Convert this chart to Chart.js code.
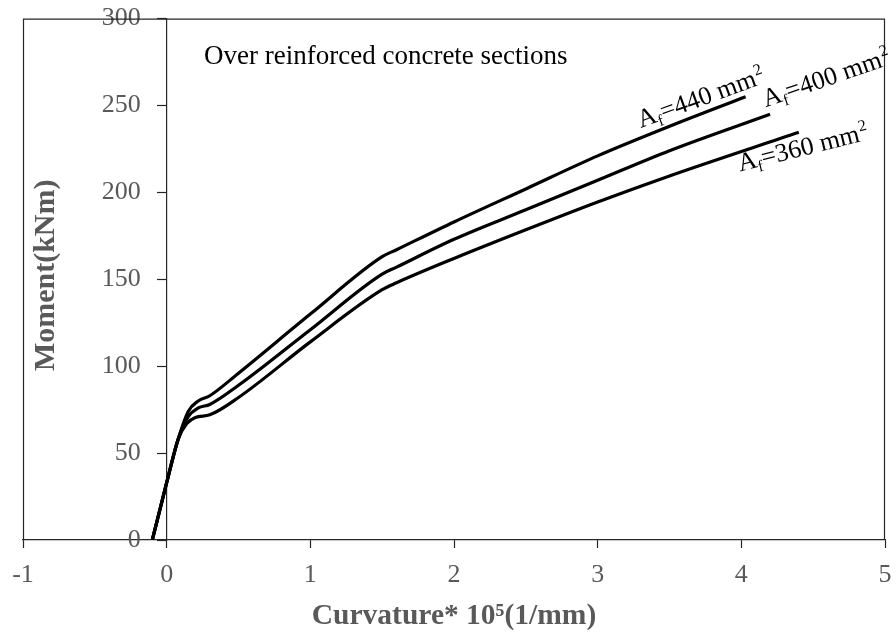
<!DOCTYPE html>
<html>
<head>
<meta charset="utf-8">
<script src="https://cdn.jsdelivr.net/npm/chart.js@4"></script>
<style>
  body { margin: 0; background: #fff; }
  #wrap { width: 896px; height: 634px; }
</style>
</head>
<body>
<div id="wrap"><canvas id="chart" width="896" height="634"></canvas></div>
<script>
// curvature * 10^5 (1/mm) and moment (kNm)
const curv440 = [-0.1, 0.0, 0.08, 0.15, 0.22, 0.3, 0.5, 1.0, 1.5, 1.6, 2.0, 2.5, 3.0, 3.5, 4.03];
const mom440  = [0, 33, 58, 74, 80, 83, 96, 130, 163, 167, 183, 202, 221, 238, 255];

const curv400 = [-0.1, 0.0, 0.08, 0.15, 0.22, 0.3, 0.5, 1.0, 1.5, 1.6, 2.0, 2.5, 3.0, 3.5, 4.2];
const mom400  = [0, 33, 58, 71, 76, 78, 89, 121, 153, 157, 173, 190, 207, 224, 245];

const curv360 = [-0.1, 0.0, 0.08, 0.14, 0.2, 0.3, 0.5, 1.0, 1.5, 1.6, 2.0, 2.5, 3.0, 3.5, 4.4];
const mom360  = [0, 33, 58, 67, 70.5, 72, 82, 114, 144, 148, 162, 178.5, 194.5, 209.5, 234.6];

const seriesNames = ['440', '400', '360'];
const xTicks = [-1, 0, 1, 2, 3, 4, 5];
const yTicks = [0, 50, 100, 150, 200, 250, 300];

const GRAY = '#595959';
const SERIF = '"Liberation Serif", "Times New Roman", serif';

function pts(xs, ys) {
  return xs.map((x, i) => ({ x: x, y: ys[i] }));
}

function lineSet(label, xs, ys) {
  return {
    label: label,
    data: pts(xs, ys),
    showLine: true,
    borderColor: '#000',
    borderWidth: 3.2,
    pointRadius: 0,
    cubicInterpolationMode: 'monotone',
    fill: false
  };
}

// draws "A_f=NNN mm^2" rotated along a curve
function drawAreaLabel(ctx, px, py, angle, value) {
  ctx.save();
  ctx.translate(px, py);
  ctx.rotate(-angle * Math.PI / 180);
  ctx.fillStyle = '#000';
  ctx.textBaseline = 'alphabetic';
  let x = 0;
  ctx.font = '26px ' + SERIF;
  ctx.fillText('A', x, 0); x += ctx.measureText('A').width;
  ctx.font = '16px ' + SERIF;
  ctx.fillText('f', x, 5); x += ctx.measureText('f').width;
  ctx.font = '26px ' + SERIF;
  const t = '=' + value + ' mm';
  ctx.fillText(t, x, 0); x += ctx.measureText(t).width;
  ctx.font = '16px ' + SERIF;
  ctx.fillText('2', x + 1, -10);
  ctx.restore();
}

const textPlugin = {
  id: 'texts',
  afterDraw(chart) {
    const { ctx, chartArea, scales } = chart;
    const xs = scales.x, ys = scales.y;

    // plot frame
    ctx.save();
    ctx.strokeStyle = '#262626';
    ctx.lineWidth = 1.2;
    ctx.beginPath();
    ctx.moveTo(chartArea.left + 0.5, chartArea.bottom);
    ctx.lineTo(chartArea.left + 0.5, chartArea.top + 0.5);
    ctx.lineTo(chartArea.right - 0.5, chartArea.top + 0.5);
    ctx.lineTo(chartArea.right - 0.5, chartArea.bottom);
    ctx.stroke();
    ctx.restore();

    // y axis title
    ctx.save();
    ctx.translate(46, (chartArea.top + chartArea.bottom) / 2 - 4);
    ctx.rotate(-Math.PI / 2);
    ctx.font = 'bold 30px ' + SERIF;
    ctx.fillStyle = GRAY;
    ctx.textAlign = 'center';
    ctx.textBaseline = 'middle';
    ctx.fillText('Moment(kNm)', 0, 0);
    ctx.restore();

    // note
    ctx.save();
    ctx.font = '27px ' + SERIF;
    ctx.fillStyle = '#000';
    ctx.textBaseline = 'alphabetic';
    ctx.fillText('Over reinforced concrete sections', xs.getPixelForValue(0.26), ys.getPixelForValue(274));
    ctx.restore();

    // curve labels
    drawAreaLabel(ctx, xs.getPixelForValue(3.3), ys.getPixelForValue(237), 20, seriesNames[0]);
    drawAreaLabel(ctx, xs.getPixelForValue(4.17), ys.getPixelForValue(249), 19, seriesNames[1]);
    drawAreaLabel(ctx, xs.getPixelForValue(3.99), ys.getPixelForValue(212), 14, seriesNames[2]);
  }
};

new Chart(document.getElementById('chart'), {
  type: 'scatter',
  data: {
    datasets: [
      lineSet(seriesNames[0], curv440, mom440),
      lineSet(seriesNames[1], curv400, mom400),
      lineSet(seriesNames[2], curv360, mom360)
    ]
  },
  options: {
    responsive: false,
    animation: false,
    devicePixelRatio: 1,
    layout: { padding: { left: 23, right: 0, top: 7, bottom: 0 } },
    plugins: {
      legend: { display: false },
      tooltip: { enabled: false }
    },
    scales: {
      x: {
        type: 'linear',
        position: 'bottom',
        min: xTicks[0],
        max: xTicks[xTicks.length - 1],
        afterBuildTicks(scale) { scale.ticks = xTicks.map(v => ({ value: v })); },
        afterFit(scale) {
          scale.height = 94;
          scale.paddingLeft = 0;
          scale.paddingRight = 11;
        },
        ticks: {
          color: GRAY,
          font: { family: SERIF, size: 26 },
          padding: 12,
          maxRotation: 0
        },
        grid: { drawOnChartArea: false, tickLength: 8, tickColor: '#262626', tickWidth: 1.2 },
        border: { color: '#262626', width: 1.2 },
        title: {
          display: true,
          text: 'Curvature* 10⁵(1/mm)',
          color: GRAY,
          font: { family: SERIF, size: 29.5, weight: 'bold' },
          padding: { top: 0, bottom: 0 }
        }
      },
      y: {
        type: 'linear',
        position: { x: 0 },
        min: yTicks[0],
        max: yTicks[yTicks.length - 1],
        afterBuildTicks(scale) { scale.ticks = yTicks.map(v => ({ value: v })); },
        ticks: {
          color: GRAY,
          font: { family: SERIF, size: 26 },
          // axis sits inside the plot, so labels are pushed left with trailing spaces
          callback: v => v + '    '
        },
        grid: { drawOnChartArea: false, tickLength: 9, tickColor: '#262626', tickWidth: 1.2 },
        border: { color: '#262626', width: 1.2 }
      }
    }
  },
  plugins: [textPlugin]
});
</script>
</body>
</html>
